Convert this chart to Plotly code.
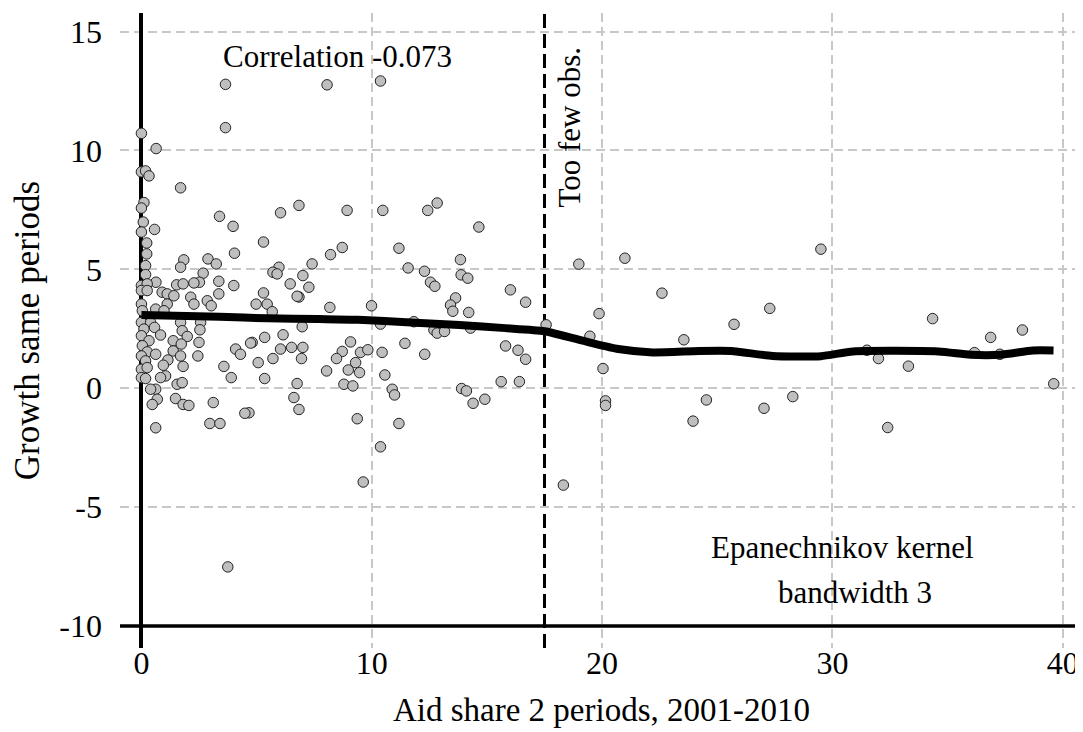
import plotly.graph_objects as go

# ---- data ----
aid_share = [
    # right of cut-off
    17.57, 18.99, 20.99, 19.87, 19.47, 20.04, 20.15, 20.15, 18.32, 22.6, 23.55, 25.73, 27.28, 24.53,
    23.95, 27.03, 28.28, 29.5, 31.5, 32.0, 32.4, 33.3, 34.35, 36.17, 36.87, 37.27, 38.25, 39.61,
    # middle
    8.06, 10.38, 6.84, 8.93, 10.48, 12.43, 12.84, 14.65,
    8.21, 8.72, 11.18, 7.41, 7.01, 7.27, 6.84, 8.18, 9.99, 10.38, 11.58, 12.29, 12.55, 12.74, 13.85,
    13.88, 14.17, 13.64, 13.42, 13.52, 14.21, 16.02, 16.68, 11.83, 12.7, 12.84, 13.16, 14.29, 6.98,
    7.01, 6.95, 9.08, 8.72, 8.47, 8.04, 8.98, 9.3, 9.47, 9.51, 9.83, 10.45, 10.57, 8.79, 9.18, 10.89,
    10.99, 11.44, 12.3, 13.9, 14.11, 14.4, 14.91, 15.81, 16.35, 16.68, 15.62, 16.41, 9.37, 11.18,
    10.38, 9.63, 6.84,
    # 4.5 - 7
    6.04, 5.3, 5.97, 5.71, 5.89, 6.46, 6.76, 5.3, 4.98, 5.46, 5.68, 4.81, 5.35, 6.15, 6.04, 6.52,
    5.07, 5.71, 5.35, 6.76, 6.62, 4.67,
    # left, upper
    3.65, 3.65, 0.0, 0.64, 0.0, 0.18, 0.33, 1.7, 0.11, 0.0, 0.08, 0.57, 0.0, 0.23, 0.23, 0.18, 0.18,
    3.39, 3.98, 4.04, 1.84, 1.7, 2.89, 3.25, 2.68, 3.36, 2.52, 2.28, 4.01, 0.63, 1.53, 1.81, 0.0, 0.25,
    # left, dense
    0.0, 0.25, 0.9, 1.12, 1.41, 2.14, 2.86, 3.03, 3.36, 2.28, 1.12, 0.0, 0.62, 0.98, 0.04,
    0.0, 0.4, 1.7, 2.57, 0.11, 0.57, 1.77, 2.54, 0.0, 0.83, 0.33, 1.99, 1.38, 2.5, 1.73, 0.04,
    1.38, 0.25, 0.62, 2.45, 1.7, 0.0, 1.15, 0.18, 1.81, 0.95, 0.0, 0.25, 1.05, 0.83, 0.0, 0.18,
    1.55, 1.77, 0.62, 0.4, 0.69, 0.47, 1.48, 1.81, 2.06, 0.62, 3.12, 2.97, 3.41, 4.49, 3.58, 3.9,
    4.09, 4.3, 4.74, 3.75,
]
growth = [
    2.67, 5.22, 5.47, 3.14, 2.19, 0.83, -0.53, -0.72, -4.07, 4.0, 2.04, 2.69, 3.36, -0.49,
    -1.38, -0.84, -0.35, 5.85, 1.6, 1.25, -1.65, 0.93, 2.93, 1.5, 2.14, 1.43, 2.45, 0.19,
    12.76, 12.92, 7.69, 7.48, 7.48, 7.48, 7.79, 6.78,
    5.62, 5.92, 5.89, 5.23, 4.74, 4.25, 3.84, 3.40, 3.47, 2.70, 5.06, 4.92, 4.46, 4.29, 5.41,
    4.77, 4.63, 3.80, 3.50, 3.24, 3.19, 4.14, 3.62, 2.80, 2.45, 2.32, 2.39, 2.53, 2.59,
    1.72, 1.25, 1.95, 1.55, 1.25, 0.73, 0.77, 1.08, 0.66, 1.51, 1.62, 1.51, 0.56, 0.17, 0.10, -0.04,
    -0.28, 1.89, 1.43, -0.01, -0.11, -0.63, -0.46, 1.78, 1.60, 1.22, 0.28, 0.28, -1.28, -1.48,
    -2.46, -3.94, -0.89,
    7.38, 6.15, 5.09, 4.88, 4.81, 4.39, 3.87, 4.01, 3.54, 3.54, 3.22, 1.93, 2.14, 2.25, 1.65, 1.72,
    1.08, 1.25, 0.41, 0.20, -0.39, -1.03,
    12.78, 10.96, 10.72, 10.08, 9.1, 9.14, 8.93, 8.43, 7.81, 7.58, 6.99, 6.68, 6.57, 6.11, 5.65, 5.16, 4.78,
    7.23, 6.81, 5.68, 5.40, 5.09, 5.44, 5.23, 4.84, 4.50, 4.46, 4.43, 4.32, 4.46, 4.35, 4.39, 4.32, 4.39,
    4.11, 4.11, 4.04, 3.97, 3.89, 3.83, 3.68, 3.47, 3.97, 3.54, 3.54, 3.54, 3.33, 3.26, 3.26,
    2.77, 2.77, 2.77, 2.77, 2.49, 2.56, 2.42, 2.46, 2.21, 2.24, 2.0, 2.18, 2.0, 1.93, 1.86, 1.79,
    1.57, 1.53, 1.43, 1.36, 1.36, 1.36, 1.19, 1.15, 0.92, 0.97, 0.8, 0.87, 0.52, 0.45, 0.45, 0.41,
    0.17, 0.24, -0.04, -0.04, -0.46, -0.68, -0.43, -0.68, -0.72, -1.66, -0.6, -1.48, -1.48, -1.05, 0.92, 0.45,
    1.65, 1.43, 1.9, -7.51,
]

kernel_x = [0, 3.4, 5.5, 7.7, 9.4, 11.7, 13.8, 15.8, 17.5, 19.4, 20.7, 22.2, 24.2, 25.6, 27.4,
            29.5, 30.9, 34.6, 36.0, 37.3, 38.7, 39.6]
kernel_y = [3.08, 3.01, 2.94, 2.91, 2.88, 2.77, 2.66, 2.53, 2.40, 1.94, 1.65, 1.51, 1.57, 1.57, 1.36,
            1.35, 1.55, 1.55, 1.41, 1.41, 1.59, 1.59]

x_ticks = [0, 10, 20, 30, 40]
y_ticks = [15, 10, 5, 0, -5, -10]
x_grid = [10, 20, 30, 40]
y_grid = [15, 10, 5, 0, -5]
cutoff = 17.5
x_title = "Aid share 2 periods, 2001-2010"
y_title = "Growth same periods"
corr_text = "Correlation -0.073"
cut_text = "Too few obs."
kernel_text = ["Epanechnikov kernel", "bandwidth 3"]

FONT = "Liberation Serif"

fig = go.Figure()
fig.add_trace(go.Scatter(
    x=aid_share, y=growth, mode="markers",
    marker=dict(size=10.5, color="#bfbfbf", line=dict(width=1, color="#222222")),
    showlegend=False, hoverinfo="x+y",
))
fig.add_trace(go.Scatter(
    x=kernel_x, y=kernel_y, mode="lines",
    line=dict(color="black", width=8, shape="spline", smoothing=0.6),
    showlegend=False,
))

# x axis line at y=-10 and cut-off line
fig.add_shape(type="line", xref="paper", yref="y", x0=0, x1=1, y0=-10, y1=-10,
              line=dict(color="black", width=3.5), layer="between")
fig.add_shape(type="line", xref="x", yref="paper", x0=cutoff, x1=cutoff, y0=0, y1=1,
              line=dict(color="black", width=3, dash="14px,6px"), layer="between")

ann_font = dict(family=FONT, size=31, color="black")
fig.add_annotation(x=8.5, y=13.97, text=corr_text, showarrow=False, font=ann_font)
fig.add_annotation(x=18.6, y=11.0, text=cut_text, showarrow=False, textangle=-90, font=ann_font)
fig.add_annotation(x=30.45, y=-6.71, text=kernel_text[0], showarrow=False, font=ann_font)
fig.add_annotation(x=31.0, y=-8.6, text=kernel_text[1], showarrow=False, font=ann_font)

def minor_grid(vals):
    return dict(tickvals=vals, showgrid=True, gridcolor="#c8c8c8", gridwidth=1.5,
                griddash="9px,5px", ticks="")

fig.update_xaxes(range=[-0.93, 40.88], tickvals=x_ticks, ticktext=[str(v) for v in x_ticks],
                 showgrid=False, minor=minor_grid(x_grid), automargin=False,
                 zeroline=True, zerolinecolor="black", zerolinewidth=3.5, showline=False,
                 ticks="", ticklabelstandoff=-7, tickfont=dict(family=FONT, size=32, color="black"),
                 title=dict(text=x_title, font=dict(family=FONT, size=33, color="black"), standoff=17))
fig.update_yaxes(range=[-10.92, 15.78], tickvals=y_ticks, ticktext=[str(v) for v in y_ticks],
                 showgrid=False, minor=minor_grid(y_grid), automargin=False,
                 zeroline=False, showline=False, ticks="", ticklabelstandoff=17,
                 tickfont=dict(family=FONT, size=32, color="black"),
                 title=dict(text=y_title, font=dict(family=FONT, size=35, color="black"), standoff=12))
# the page body adds an 8px offset, so the figure is 8px smaller than the window
fig.update_layout(width=1075, height=724, margin=dict(l=112, r=0, t=5, b=84, autoexpand=False),
                  paper_bgcolor="white", plot_bgcolor="white", font=dict(family=FONT))

fig.write_html("out.html")
